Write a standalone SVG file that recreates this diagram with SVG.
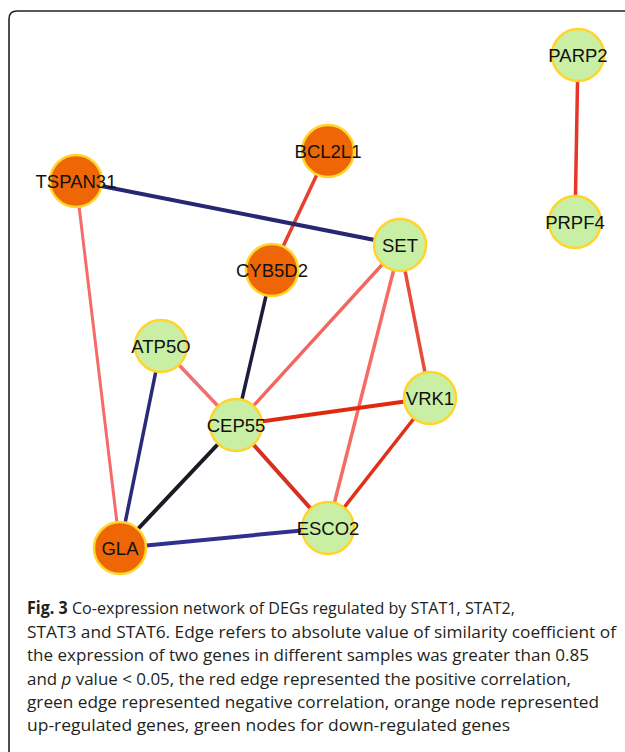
<svg xmlns="http://www.w3.org/2000/svg" width="625" height="752" viewBox="0 0 625 752">
<defs>
<style>
.edge{fill:none;stroke-linecap:butt}
.up{fill:#ee6605;stroke:#ffd52a;stroke-width:2.5}
.down{fill:#c9efa5;stroke:#ffd52a;stroke-width:2.5}
.lbl{font-family:"Liberation Sans",Arial,sans-serif;font-size:18.5px;fill:#111;text-anchor:middle}
.cap{font-family:"Open Sans","Noto Sans",sans-serif;font-size:17px;fill:#231f20}
</style>
</defs>
<rect width="625" height="752" fill="#fff"/>
<path d="M9 752 V19 Q9 11 17 11 H625" fill="none" stroke="#222" stroke-width="1.6"/>
<g id="connectors">
<line class="edge" x1="578" y1="55" x2="575" y2="222" stroke="#e8352a" stroke-width="3.5"/>
<line class="edge" x1="328" y1="151" x2="272" y2="270" stroke="#e8402f" stroke-width="3.5"/>
<line class="edge" x1="76" y1="181" x2="400" y2="245" stroke="#262673" stroke-width="4"/>
<line class="edge" x1="76" y1="181" x2="120" y2="548" stroke="#f56b6b" stroke-width="3"/>
<line class="edge" x1="272" y1="270" x2="236" y2="425" stroke="#1c1c3c" stroke-width="3.5"/>
<line class="edge" x1="400" y1="245" x2="236" y2="425" stroke="#f26660" stroke-width="3.5"/>
<line class="edge" x1="400" y1="245" x2="328" y2="528" stroke="#f56b66" stroke-width="3.5"/>
<line class="edge" x1="400" y1="245" x2="430" y2="398" stroke="#e84a3c" stroke-width="3.5"/>
<line class="edge" x1="161" y1="346" x2="236" y2="425" stroke="#f07070" stroke-width="3.5"/>
<line class="edge" x1="161" y1="346" x2="120" y2="548" stroke="#2a2a78" stroke-width="3.5"/>
<line class="edge" x1="236" y1="425" x2="430" y2="398" stroke="#e02a10" stroke-width="4"/>
<line class="edge" x1="236" y1="425" x2="328" y2="528" stroke="#d83020" stroke-width="4"/>
<line class="edge" x1="236" y1="425" x2="120" y2="548" stroke="#1a1a24" stroke-width="4"/>
<line class="edge" x1="430" y1="398" x2="328" y2="528" stroke="#e0301a" stroke-width="3.5"/>
<line class="edge" x1="120" y1="548" x2="328" y2="528" stroke="#303090" stroke-width="4"/>
</g>
<g id="PARP2"><circle class="down" cx="578" cy="55" r="26"/><text class="lbl" x="578" y="61.5">PARP2</text></g>
<g id="PRPF4"><circle class="down" cx="575" cy="222" r="26"/><text class="lbl" x="575" y="228.5">PRPF4</text></g>
<g id="BCL2L1"><circle class="up" cx="328" cy="151" r="26"/><text class="lbl" x="328" y="157.5">BCL2L1</text></g>
<g id="TSPAN31"><circle class="up" cx="76" cy="181" r="26"/><text class="lbl" x="76" y="187.5">TSPAN31</text></g>
<g id="SET"><circle class="down" cx="400" cy="245" r="26"/><text class="lbl" x="400" y="251.5">SET</text></g>
<g id="CYB5D2"><circle class="up" cx="272" cy="270" r="26"/><text class="lbl" x="272" y="276.5">CYB5D2</text></g>
<g id="ATP5O"><circle class="down" cx="161" cy="346" r="26"/><text class="lbl" x="161" y="352.5">ATP5O</text></g>
<g id="CEP55"><circle class="down" cx="236" cy="425" r="26"/><text class="lbl" x="236" y="431.5">CEP55</text></g>
<g id="VRK1"><circle class="down" cx="430" cy="398" r="26"/><text class="lbl" x="430" y="404.5">VRK1</text></g>
<g id="ESCO2"><circle class="down" cx="328" cy="528" r="26"/><text class="lbl" x="328" y="534.5">ESCO2</text></g>
<g id="GLA"><circle class="up" cx="120" cy="548" r="26"/><text class="lbl" x="120" y="554.5">GLA</text></g>
<g id="caption">
<text class="cap" x="27" y="614" textLength="488" lengthAdjust="spacingAndGlyphs"><tspan font-weight="bold">Fig. 3</tspan> Co-expression network of DEGs regulated by STAT1, STAT2,</text>
<text class="cap" x="27" y="638" textLength="589" lengthAdjust="spacingAndGlyphs">STAT3 and STAT6. Edge refers to absolute value of similarity coefficient of</text>
<text class="cap" x="27" y="661" textLength="562" lengthAdjust="spacingAndGlyphs">the expression of two genes in different samples was greater than 0.85</text>
<text class="cap" x="27" y="685" textLength="544" lengthAdjust="spacingAndGlyphs">and <tspan font-style="italic">p</tspan> value &lt; 0.05, the red edge represented the positive correlation,</text>
<text class="cap" x="27" y="708" textLength="572" lengthAdjust="spacingAndGlyphs">green edge represented negative correlation, orange node represented</text>
<text class="cap" x="27" y="731" textLength="483" lengthAdjust="spacingAndGlyphs">up-regulated genes, green nodes for down-regulated genes</text>
</g>
</svg>
